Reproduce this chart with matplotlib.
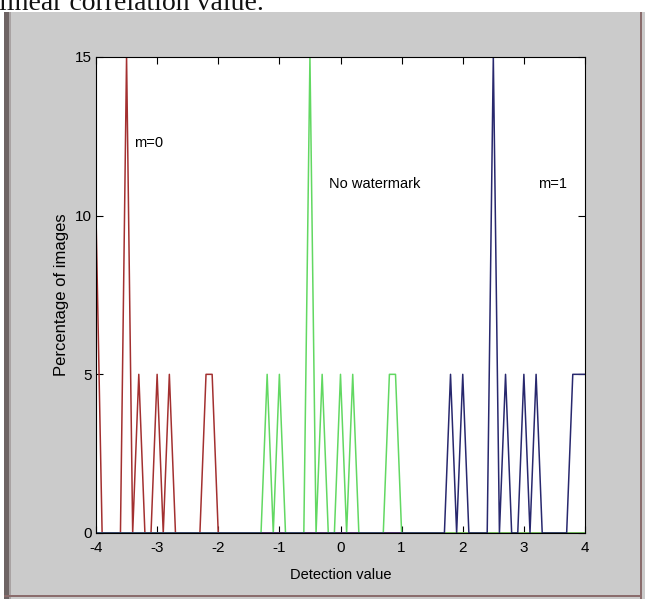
import numpy as np
import matplotlib
matplotlib.use("Agg")
import matplotlib.pyplot as plt
from matplotlib.patches import Rectangle

# detection value bins (bin centres, step 0.1)
bins = np.round(np.linspace(-4, 4, 81), 1)

# non-zero bins (percentage of images)
red_x = [-4.0, -3.5, -3.3, -3.0, -2.8, -2.2, -2.1]
red_pct = [10, 15, 5, 5, 5, 5, 5]

green_x = [-1.2, -1.0, -0.5, -0.3, 0.0, 0.2, 0.8, 0.9]
green_pct = [5, 5, 15, 5, 5, 5, 5, 5]

blue_x = [1.8, 2.0, 2.5, 2.7, 3.0, 3.2, 3.8, 3.9, 4.0]
blue_pct = [5, 5, 15, 5, 5, 5, 5, 5, 5]

x_ticks = [-4, -3, -2, -1, 0, 1, 2, 3, 4]
y_ticks = [0, 5, 10, 15]


def to_series(xs, ps):
    s = np.zeros(len(bins))
    for x, p in zip(xs, ps):
        s[np.argmin(np.abs(bins - x))] = p
    return s


red = to_series(red_x, red_pct)
green = to_series(green_x, green_pct)
blue = to_series(blue_x, blue_pct)

plt.rcParams["font.family"] = ["Liberation Sans", "DejaVu Sans"]

W, H = 647, 599
fig = plt.figure(figsize=(W / 100, H / 100), dpi=100, facecolor="white")

# grey window background and frame
def frame_rect(x, y, w, h, color):
    fig.patches.append(Rectangle((x / W, y / H), w / W, h / H, transform=fig.transFigure,
                                 facecolor=color, edgecolor="none", zorder=-10))

frame_rect(4, 0, 641, H - 12, "#cbcbcb")
frame_rect(4, 0, 5, H - 12, "#6e6464")
frame_rect(9, 0, 2, H - 12, "#a9a3a3")
frame_rect(640, 0, 2, H - 12, "#8a6c6c")
frame_rect(4, 2, 638, 2, "#8a6c6c")

# cut-off caption text from the page above
fig.text(-1 / W, 1 - 10 / H, "linear correlation value.", family="Liberation Serif",
         fontsize=20, va="baseline", ha="left", color="#111111")

ax = fig.add_axes([96 / W, 66 / H, 489 / W, 476 / H])
ax.set_zorder(5)
ax.set_facecolor("white")

ax.plot(bins, red, color="#a33030", lw=1.1)
ax.plot(bins, green, color="#62d862", lw=1.1)
ax.plot(bins, blue, color="#28286e", lw=1.1)

ax.set_xlim(-4, 4)
ax.set_ylim(0, 15)
ax.set_xticks(x_ticks)
ax.set_yticks(y_ticks)
ax.set_xticklabels([str(t) for t in x_ticks])
ax.tick_params(direction="in", top=True, right=True, length=5, width=0.8,
               labelsize=11)
ax.tick_params(axis="x", pad=6)
ax.tick_params(axis="y", pad=3)
for sp in ax.spines.values():
    sp.set_linewidth(0.8)

ax.set_xlabel("Detection value", fontsize=10.5, labelpad=9)
ax.set_ylabel("Percentage of images", fontsize=12, labelpad=4)

ax.text(-3.38, 12.3, "m=0", fontsize=10.5, va="center", ha="left")
ax.text(-0.19, 11.0, "No watermark", fontsize=10.5, va="center", ha="left")
ax.text(3.23, 11.0, "m=1", fontsize=10.5, va="center", ha="left")

fig.savefig("out.png", dpi=100, facecolor=fig.get_facecolor())
